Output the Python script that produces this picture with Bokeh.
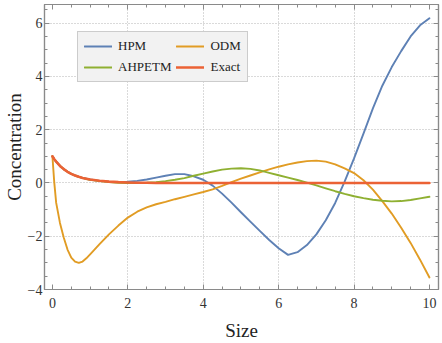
from bokeh.plotting import figure
from bokeh.models import (Range1d, LinearAxis, SingleIntervalTicker, FixedTicker,
                          Legend, LegendItem, CustomLabelingPolicy)
from bokeh.embed import file_html
from bokeh.resources import INLINE

# ---- data ----
size = [0, 0.05, 0.1, 0.2, 0.3, 0.4, 0.5, 0.6, 0.7, 0.8, 0.9, 1.0,
        1.25, 1.5, 1.75, 2.0, 2.25, 2.5, 2.75, 3.0, 3.25, 3.5, 3.75, 4.0,
        4.25, 4.5, 4.75, 5.0, 5.25, 5.5, 5.75, 6.0, 6.25, 6.5, 6.75, 7.0,
        7.25, 7.5, 7.75, 8.0, 8.25, 8.5, 8.75, 9.0, 9.25, 9.5, 9.75, 10.0]

hpm = [1.0, 0.89, 0.8, 0.64, 0.52, 0.42, 0.34, 0.28, 0.23, 0.19, 0.16, 0.13,
       0.08, 0.05, 0.04, 0.05, 0.08, 0.13, 0.2, 0.27, 0.33, 0.33, 0.25, 0.12,
       -0.1, -0.4, -0.74, -1.1, -1.45, -1.8, -2.14, -2.45, -2.7, -2.6, -2.33, -1.93,
       -1.4, -0.75, 0.05, 0.92, 1.85, 2.8, 3.65, 4.35, 4.95, 5.5, 5.92, 6.18]

odm = [1.0, 0.0, -0.75, -1.5, -2.05, -2.5, -2.8, -2.95, -3.0, -2.95, -2.83, -2.68,
       -2.3, -1.93, -1.6, -1.3, -1.08, -0.92, -0.8, -0.71, -0.61, -0.52, -0.43, -0.34,
       -0.24, -0.11, 0.03, 0.16, 0.28, 0.4, 0.51, 0.61, 0.7, 0.77, 0.82, 0.84,
       0.8, 0.7, 0.55, 0.37, 0.1, -0.25, -0.68, -1.15, -1.68, -2.25, -2.88, -3.55]

ahpetm = [1.0, 0.89, 0.8, 0.64, 0.52, 0.42, 0.34, 0.28, 0.23, 0.19, 0.15, 0.12,
          0.07, 0.03, 0.01, 0.0, 0.0, 0.01, 0.03, 0.07, 0.12, 0.18, 0.27, 0.35,
          0.43, 0.5, 0.54, 0.55, 0.53, 0.47, 0.38, 0.29, 0.2, 0.11, 0.01, -0.09,
          -0.2, -0.31, -0.41, -0.5, -0.57, -0.63, -0.67, -0.69, -0.68, -0.64, -0.58, -0.52]

exact = [1.0, 0.89, 0.8, 0.64, 0.52, 0.42, 0.34, 0.28, 0.23, 0.19, 0.16, 0.13,
         0.08, 0.05, 0.03, 0.02, 0.01, 0.005, 0, 0, 0, 0, 0, 0,
         0, 0, 0, 0, 0, 0, 0, 0, 0, 0, 0, 0,
         0, 0, 0, 0, 0, 0, 0, 0, 0, 0, 0, 0]

series_names = ["HPM", "ODM", "AHPETM", "Exact"]
series_colors = ["#5E81B5", "#E19C24", "#8FB032", "#EB6235"]
x_grid_ticks = [2, 4, 6, 8]
y_grid_ticks = [-2, 0, 2, 4, 6]

FONT = "Liberation Serif"
FRAME = "#8a8a8a"

p = figure(width=442, height=343, output_backend="svg", toolbar_location=None,
           x_range=Range1d(-0.21, 10.24), y_range=Range1d(-4, 6.70),
           x_axis_label="Size", y_axis_label="Concentration",
           min_border_left=44, min_border_right=1, min_border_top=0, min_border_bottom=54)
p.background_fill_color = "white"
p.border_fill_color = "white"
p.outline_line_color = FRAME
p.outline_line_width = 1.2

no_labels = CustomLabelingPolicy(code="for (const i of indices) { indices.unset(i) }\nreturn indices")

def style_axis(ax, labels=True):
    ax.ticker = SingleIntervalTicker(interval=2, num_minor_ticks=4)
    ax.axis_line_color = FRAME
    ax.axis_line_width = 1.2
    ax.major_tick_line_color = FRAME
    ax.minor_tick_line_color = FRAME
    ax.major_tick_in = 5
    ax.major_tick_out = 0
    ax.minor_tick_in = 3
    ax.minor_tick_out = 0
    ax.major_tick_line_width = 1
    ax.minor_tick_line_width = 1
    ax.major_label_text_font = FONT
    if labels:
        ax.major_label_text_font_size = "14px"
        ax.major_label_text_color = "#333333"
        ax.axis_label_text_font = FONT
        ax.axis_label_text_font_size = "19px"
        ax.axis_label_text_font_style = "normal"
        ax.axis_label_text_color = "#222222"
    else:
        ax.major_label_text_font_size = "1px"
        ax.major_label_standoff = 0
        ax.major_label_policy = no_labels

style_axis(p.xaxis[0])
style_axis(p.yaxis[0])
p.xaxis[0].major_label_standoff = 8
p.xaxis[0].axis_label_standoff = 9
p.yaxis[0].major_label_standoff = 2
p.yaxis[0].axis_label_standoff = 0

top_ax = LinearAxis()
right_ax = LinearAxis()
style_axis(top_ax, labels=False)
style_axis(right_ax, labels=False)
p.add_layout(top_ax, "above")
p.add_layout(right_ax, "right")

p.xgrid.ticker = FixedTicker(ticks=x_grid_ticks)
p.ygrid.ticker = FixedTicker(ticks=y_grid_ticks)
for g in (p.xgrid[0], p.ygrid[0]):
    g.grid_line_color = "#b5b5b5"
    g.grid_line_dash = "1 2"
    g.grid_line_width = 1

renderers = []
for name, ys, col in zip(series_names, [hpm, odm, ahpetm, exact], series_colors):
    lw = 2.6 if name == "Exact" else 1.9
    r = p.line(size, ys, line_color=col, line_width=lw, line_join="round", line_cap="round")
    renderers.append(r)

legend = Legend(items=[LegendItem(label=n, renderers=[r]) for n, r in zip(series_names, renderers)],
                location=(33, 207), orientation="horizontal", ncols=2)
legend.label_text_font = FONT
legend.label_text_font_size = "13px"
legend.label_text_color = "#222222"
legend.glyph_width = 28
legend.glyph_height = 14
legend.label_standoff = 6
legend.spacing = 5
legend.padding = 6
legend.margin = 0
legend.background_fill_color = "#f2f2f2"
legend.background_fill_alpha = 1
legend.border_line_color = "#a5a5a5"
legend.border_line_width = 1.5
p.add_layout(legend, "center")

open("out.html", "w").write(file_html(p, INLINE))
